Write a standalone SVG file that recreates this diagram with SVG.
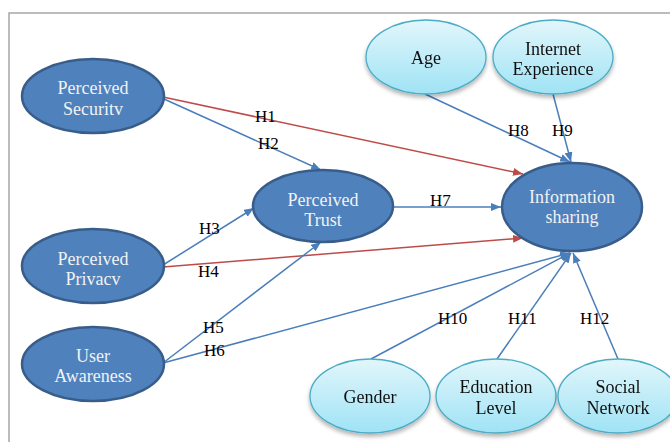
<svg xmlns="http://www.w3.org/2000/svg" width="670" height="442" viewBox="0 0 670 442">
<defs>
<linearGradient id="lg" x1="0" y1="0" x2="0" y2="1">
<stop offset="0" stop-color="#e2f6fb"/>
<stop offset="1" stop-color="#9fe3f5"/>
</linearGradient>
<filter id="sh" x="-20%" y="-20%" width="140%" height="150%">
<feGaussianBlur in="SourceAlpha" stdDeviation="2"/>
<feOffset dx="0" dy="3" result="b"/>
<feComponentTransfer><feFuncA type="linear" slope="0.3"/></feComponentTransfer>
<feMerge><feMergeNode/><feMergeNode in="SourceGraphic"/></feMerge>
</filter>
<marker id="ab" viewBox="0 0 10 8" refX="10" refY="4" markerWidth="10" markerHeight="8" markerUnits="userSpaceOnUse" orient="auto">
<path d="M0,0 L10,4 L0,8 Z" fill="#4a7ebb"/>
</marker>
<marker id="ar" viewBox="0 0 10 8" refX="10" refY="4" markerWidth="10" markerHeight="8" markerUnits="userSpaceOnUse" orient="auto">
<path d="M0,0 L10,4 L0,8 Z" fill="#be4b48"/>
</marker>
</defs>
<style>
.dk{fill:#4f81bd;stroke:#385d8a;stroke-width:2.5}
.lt{fill:url(#lg);stroke:#4bacc6;stroke-width:1.3}
.tw{font-family:"Liberation Serif","Times New Roman",serif;font-size:18px;fill:#f2f2f2;text-anchor:middle}
.tb{font-family:"Liberation Serif","Times New Roman",serif;font-size:18px;fill:#111;text-anchor:middle}
.hl{font-family:"Liberation Serif","Times New Roman",serif;font-size:17px;fill:#000}
.cb{stroke:#4a7ebb;stroke-width:1.5;fill:none;marker-end:url(#ab)}
.cr{stroke:#be4b48;stroke-width:1.5;fill:none;marker-end:url(#ar)}
</style>
<rect x="0" y="0" width="670" height="442" fill="#fff"/>
<path d="M9,442 L9,13 L670,13" fill="none" stroke="#a6a6a6" stroke-width="1.5"/>
<g id="connectors">
<line class="cr" x1="163" y1="97" x2="523" y2="174"/>
<line class="cb" x1="164" y1="99" x2="321" y2="170"/>
<line class="cb" x1="393" y1="207" x2="501" y2="207"/>
<line class="cb" x1="425" y1="94" x2="570" y2="162"/>
<line class="cb" x1="553" y1="94" x2="571" y2="162"/>
<line class="cb" x1="163" y1="265" x2="254" y2="208"/>
<line class="cr" x1="163" y1="267" x2="523" y2="238"/>
<line class="cb" x1="163" y1="363" x2="321" y2="242"/>
<line class="cb" x1="163" y1="363" x2="570" y2="253"/>
<line class="cb" x1="371" y1="359" x2="570" y2="253"/>
<line class="cb" x1="497" y1="359" x2="571" y2="253"/>
<line class="cb" x1="618" y1="359" x2="573" y2="253"/>
</g>
<g id="labels">
<text class="hl" x="255" y="122">H1</text>
<text class="hl" x="258" y="149">H2</text>
<text class="hl" x="199" y="234">H3</text>
<text class="hl" x="198" y="277">H4</text>
<text class="hl" x="203" y="333">H5</text>
<text class="hl" x="204" y="356">H6</text>
<text class="hl" x="430" y="206">H7</text>
<text class="hl" x="508" y="136">H8</text>
<text class="hl" x="552" y="136">H9</text>
<text class="hl" x="438" y="324">H10</text>
<text class="hl" x="508" y="324">H11</text>
<text class="hl" x="580" y="324">H12</text>
</g>
<g id="perceived-security">
<ellipse class="dk" cx="93" cy="96" rx="71" ry="37"/>
<text class="tw" x="93" y="94">Perceived</text>
<text class="tw" x="93" y="115">Securitv</text>
</g>
<g id="perceived-privacy">
<ellipse class="dk" cx="93" cy="266" rx="71" ry="37"/>
<text class="tw" x="93" y="265">Perceived</text>
<text class="tw" x="93" y="285">Privacv</text>
</g>
<g id="user-awareness">
<ellipse class="dk" cx="93" cy="364" rx="71" ry="37"/>
<text class="tw" x="93" y="362">User</text>
<text class="tw" x="93" y="382">Awareness</text>
</g>
<g id="perceived-trust">
<ellipse class="dk" cx="323" cy="206" rx="70" ry="36"/>
<text class="tw" x="323" y="206">Perceived</text>
<text class="tw" x="323" y="226">Trust</text>
</g>
<g id="information-sharing">
<ellipse class="dk" cx="572" cy="207" rx="70" ry="44"/>
<text class="tw" x="572" y="203">Information</text>
<text class="tw" x="572" y="223">sharing</text>
</g>
<g id="age" filter="url(#sh)">
<ellipse class="lt" cx="426" cy="57" rx="60" ry="37"/>
<text class="tb" x="426" y="64">Age</text>
</g>
<g id="internet-experience" filter="url(#sh)">
<ellipse class="lt" cx="553" cy="57" rx="60" ry="37"/>
<text class="tb" x="553" y="55">Internet</text>
<text class="tb" x="553" y="75">Experience</text>
</g>
<g id="gender" filter="url(#sh)">
<ellipse class="lt" cx="370" cy="396" rx="60" ry="37"/>
<text class="tb" x="370" y="403">Gender</text>
</g>
<g id="education-level" filter="url(#sh)">
<ellipse class="lt" cx="496" cy="396" rx="60" ry="37"/>
<text class="tb" x="496" y="393">Education</text>
<text class="tb" x="496" y="414">Level</text>
</g>
<g id="social-network" filter="url(#sh)">
<ellipse class="lt" cx="618" cy="396" rx="60" ry="37"/>
<text class="tb" x="618" y="393">Social</text>
<text class="tb" x="618" y="414">Network</text>
</g>
</svg>
